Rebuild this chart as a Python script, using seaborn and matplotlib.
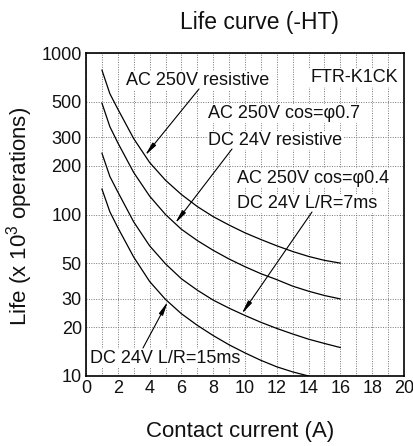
import numpy as np
import pandas as pd
import matplotlib
matplotlib.use("Agg")
import matplotlib.pyplot as plt
from matplotlib.ticker import NullLocator
import seaborn as sns

# values (life in 10^3 operations)
current = [1, 1.5, 2, 3, 4, 5, 6, 7, 8, 9, 10, 11, 12, 13, 14, 15, 16]
ac250_res = [785, 560, 450, 295, 210, 163, 133, 112, 97, 86, 77, 70, 64, 59, 55, 52, 50]
ac250_cos07 = [490, 350, 278, 182, 130, 100, 81, 69, 60, 53, 47.5, 43, 39.5, 36, 33.5, 31.5, 30]
ac250_cos04 = [240, 172, 138, 90, 64, 49.5, 40, 34, 29.5, 26.3, 23.7, 21.5, 19.7, 18.2, 16.9, 15.9, 15]
current_15ms = [1, 1.5, 2, 3, 4, 5, 6, 7, 8, 9, 10, 11, 12, 13, 14]
dc24_15ms = [144, 104, 83, 54.5, 38.5, 29.8, 24.3, 20.6, 17.8, 15.6, 13.9, 12.5, 11.4, 10.6, 10]

yticks = [10, 20, 30, 50, 100, 200, 300, 500, 1000]
ytick_labels = ["10", "20", "30", "50", "100", "200", "300", "500", "1000"]
xticks = list(range(0, 21, 2))

sns.set_style("white")
plt.rcParams["font.family"] = ["Liberation Sans", "DejaVu Sans"]
plt.rcParams["mathtext.default"] = "regular"
plt.rcParams["text.color"] = "#111111"

df = pd.concat([
    pd.DataFrame({"current": current, "life": ac250_res, "curve": "a"}),
    pd.DataFrame({"current": current, "life": ac250_cos07, "curve": "b"}),
    pd.DataFrame({"current": current, "life": ac250_cos04, "curve": "c"}),
    pd.DataFrame({"current": current_15ms, "life": dc24_15ms, "curve": "d"}),
])

fig = plt.figure(figsize=(4.14, 4.46), dpi=100)
ax = fig.add_axes([86 / 414, 70 / 446, 318 / 414, 323 / 446])

sns.lineplot(data=df, x="current", y="life", hue="curve", palette=["black"] * 4,
             legend=False, lw=0.9, estimator=None, ax=ax, zorder=3)

ax.set_yscale("log")
ax.set_xlim(0, 20)
ax.set_ylim(10, 1000)
ax.set_yticks(yticks)
ax.set_yticklabels(ytick_labels)
ax.yaxis.set_minor_locator(NullLocator())
ax.set_xticks(xticks)
ax.set_xticks(range(0, 21), minor=True)
ax.tick_params(axis="x", which="both", direction="in", length=5, width=0.8,
               labelsize=13, pad=3, colors="black", labelcolor="#111111")
ax.tick_params(axis="y", which="both", length=0, labelsize=13, pad=3,
               labelcolor="#111111")
ax.set_xlabel("")
ax.set_ylabel("")

ax.set_axisbelow(True)
ax.grid(axis="x", which="both", ls=(0, (1, 1.5)), color="#777777", lw=0.7)
ax.grid(axis="y", which="major", ls=(0, (1, 1.5)), color="#777777", lw=0.7)
for s in ax.spines.values():
    s.set_color("black")
    s.set_linewidth(1.2)


def px(x, y):
    # pixel position in the picture -> axes fraction
    return ((x - 86) / 318, (376 - y) / 323)


def on_curve(x, xs, ys):
    return 10 ** np.interp(x, xs, np.log10(ys))


labels = [
    ("AC 250V resistive", 126, 85, "left"),
    ("AC 250V cos=φ0.7", 208, 118, "left"),
    ("DC 24V resistive", 208, 145, "left"),
    ("AC 250V cos=φ0.4", 237, 183, "left"),
    ("DC 24V L/R=7ms", 237, 208, "left"),
    ("DC 24V L/R=15ms", 90, 363, "left"),
    ("FTR-K1CK", 398, 82, "right"),
]
for txt, x, y, ha in labels:
    ax.text(*px(x, y), txt, transform=ax.transAxes, ha=ha, va="baseline",
            fontsize=13, zorder=2.5,
            bbox=dict(fc="white", ec="none", pad=0.6))

arrows = [
    ((199, 89), 3.71, current, ac250_res),
    ((232, 149), 5.6, current, ac250_cos07),
    ((312, 212), 9.79, current, ac250_cos04),
    ((143, 348), 5.15, current_15ms, dc24_15ms),
]
for tail, tx, xs, ys in arrows:
    ax.annotate("", xy=(tx, on_curve(tx, xs, ys)), xycoords="data",
                xytext=px(*tail), textcoords="axes fraction",
                arrowprops=dict(arrowstyle="-|>,head_length=0.8,head_width=0.13",
                                color="black", lw=0.8, shrinkA=0, shrinkB=0),
                zorder=4)

fig.text(259 / 414, 1 - 22 / 446, "Life curve (-HT)", ha="center", va="center", fontsize=16.5)
fig.text(240 / 414, 1 - 432 / 446, "Contact current (A)", ha="center", va="center", fontsize=16)
fig.text(20 / 414, 1 - 216 / 446, "Life (x 10$^{3}$ operations)", ha="center", va="center",
         rotation=90, fontsize=16)

fig.savefig("out.png", dpi=100)
plt.close()
